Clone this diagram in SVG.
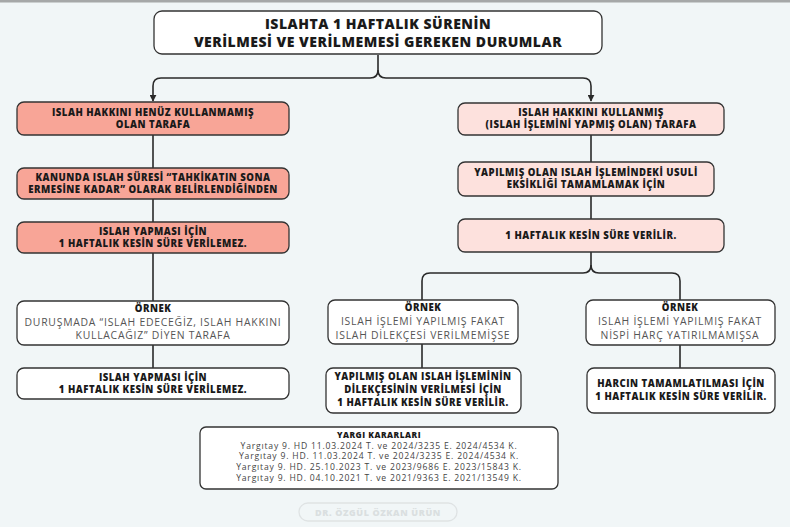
<svg xmlns="http://www.w3.org/2000/svg" width="790" height="527" viewBox="0 0 790 527">
<defs>
<style>
.box{stroke:#333;stroke-width:1.3}
.w{fill:#fff}
.sal{fill:#f8a597}
.pink{fill:#fde1dd}
.b{font-family:"Open Sans","DejaVu Sans",sans-serif;font-weight:800;font-size:9.6px;letter-spacing:0.5px;fill:#1a1a1a;text-anchor:middle}
.r{font-family:"Open Sans","DejaVu Sans",sans-serif;font-weight:400;font-size:10.4px;letter-spacing:0.75px;fill:#555;text-anchor:middle}
.t{font-family:"Open Sans","DejaVu Sans",sans-serif;font-weight:800;font-size:14px;letter-spacing:0.5px;fill:#1a1a1a;text-anchor:middle}
.y{font-family:"Open Sans","DejaVu Sans",sans-serif;font-weight:400;font-size:8.6px;letter-spacing:0.8px;fill:#444;text-anchor:middle}
.c{fill:none;stroke:#2a2a2a;stroke-width:1.6}
</style>
<marker id="ah" viewBox="0 0 10 10" refX="9" refY="5" markerWidth="7" markerHeight="7" orient="auto" markerUnits="userSpaceOnUse">
<path d="M0,0 L10,5 L0,10 z" fill="#2a2a2a"/>
</marker>
</defs>
<rect width="790" height="527" fill="#f1f6f7"/>
<rect width="790" height="2.5" fill="#a6a8a8"/>

<g id="connectors">
<path class="c" d="M378,55 V70 Q378,78 370,78 H161 Q153,78 153,86 V101" marker-end="url(#ah)"/>
<path class="c" d="M378,70 Q378,78 386,78 H583 Q591,78 591,86 V101" marker-end="url(#ah)"/>
<path class="c" d="M153,135 V168 M153,199 V222 M153,253 V301 M153,345 V368"/>
<path class="c" d="M591,135 V162 M591,196 V219"/>
<path class="c" d="M591,252 V265 Q591,273 583,273 H430 Q422,273 422,281 V300"/>
<path class="c" d="M591,265 Q591,273 599,273 H672 Q680,273 680,281 V300"/>
<path class="c" d="M422,344 V368 M680,345 V368"/>
</g>

<g id="title">
<rect class="box w" x="154" y="11" width="448" height="43" rx="8"/>
<text class="t" x="378" y="29">ISLAHTA 1 HAFTALIK SÜRENİN</text>
<text class="t" x="378" y="47">VERİLMESİ VE VERİLMEMESİ GEREKEN DURUMLAR</text>
</g>

<g id="left1">
<rect class="box sal" x="17" y="102" width="272" height="33" rx="7"/>
<text class="b" x="153" y="115.5">ISLAH HAKKINI HENÜZ KULLANMAMIŞ</text>
<text class="b" x="153" y="128">OLAN TARAFA</text>
</g>
<g id="left2">
<rect class="box sal" x="17" y="168" width="272" height="31" rx="7"/>
<text class="b" x="153" y="180.5">KANUNDA ISLAH SÜRESİ “TAHKİKATIN SONA</text>
<text class="b" x="153" y="193">ERMESİNE KADAR” OLARAK BELİRLENDİĞİNDEN</text>
</g>
<g id="left3">
<rect class="box sal" x="17" y="222" width="272" height="31" rx="7"/>
<text class="b" x="153" y="234.5">ISLAH YAPMASI İÇİN</text>
<text class="b" x="153" y="247">1 HAFTALIK KESİN SÜRE VERİLEMEZ.</text>
</g>
<g id="left4">
<rect class="box w" x="17" y="301" width="272" height="44" rx="7"/>
<text class="b" x="153" y="311.5">ÖRNEK</text>
<text class="r" x="153" y="325.5">DURUŞMADA “ISLAH EDECEĞİZ, ISLAH HAKKINI</text>
<text class="r" x="153" y="339">KULLACAĞIZ” DİYEN TARAFA</text>
</g>
<g id="left5">
<rect class="box w" x="17" y="368" width="272" height="31" rx="7"/>
<text class="b" x="153" y="380.5">ISLAH YAPMASI İÇİN</text>
<text class="b" x="153" y="393">1 HAFTALIK KESİN SÜRE VERİLEMEZ.</text>
</g>

<g id="right1">
<rect class="box pink" x="458" y="103" width="266" height="32" rx="7"/>
<text class="b" x="591" y="115.5">ISLAH HAKKINI KULLANMIŞ</text>
<text class="b" x="591" y="128">(ISLAH İŞLEMİNİ YAPMIŞ OLAN) TARAFA</text>
</g>
<g id="right2">
<rect class="box pink" x="458" y="162" width="256" height="34" rx="7"/>
<text class="b" x="586" y="175.5">YAPILMIŞ OLAN ISLAH İŞLEMİNDEKİ USULİ</text>
<text class="b" x="586" y="188">EKSİKLİĞİ TAMAMLAMAK İÇİN</text>
</g>
<g id="right3">
<rect class="box pink" x="458" y="219" width="266" height="33" rx="7"/>
<text class="b" x="591" y="239">1 HAFTALIK KESİN SÜRE VERİLİR.</text>
</g>

<g id="mid4">
<rect class="box w" x="328" y="300" width="190" height="44" rx="7"/>
<text class="b" x="423" y="311">ÖRNEK</text>
<text class="r" x="423" y="325">ISLAH İŞLEMİ YAPILMIŞ FAKAT</text>
<text class="r" x="423" y="338.5">ISLAH DİLEKÇESİ VERİLMEMİŞSE</text>
</g>
<g id="mid5">
<rect class="box w" x="326" y="368" width="195" height="45" rx="7"/>
<text class="b" x="423" y="380">YAPILMIŞ OLAN ISLAH İŞLEMİNİN</text>
<text class="b" x="423" y="393">DİLEKÇESİNİN VERİLMESİ İÇİN</text>
<text class="b" x="423" y="406">1 HAFTALIK KESİN SÜRE VERİLİR.</text>
</g>

<g id="right4">
<rect class="box w" x="586" y="300" width="189" height="45" rx="7"/>
<text class="b" x="680" y="311">ÖRNEK</text>
<text class="r" x="680" y="325">ISLAH İŞLEMİ YAPILMIŞ FAKAT</text>
<text class="r" x="680" y="338.5">NİSPİ HARÇ YATIRILMAMIŞSA</text>
</g>
<g id="right5">
<rect class="box w" x="587" y="368" width="188" height="45" rx="7"/>
<text class="b" x="681" y="387">HARCIN TAMAMLATILMASI İÇİN</text>
<text class="b" x="681" y="400">1 HAFTALIK KESİN SÜRE VERİLİR.</text>
</g>

<g id="yargi">
<rect class="box w" x="200" y="427" width="358" height="62" rx="6"/>
<text class="b" x="379" y="437.5" style="font-size:8.3px">YARGI KARARLARI</text>
<text class="y" x="379" y="448.5">Yargıtay 9. HD 11.03.2024 T. ve 2024/3235 E. 2024/4534 K.</text>
<text class="y" x="379" y="459.3">Yargıtay 9. HD. 11.03.2024 T. ve 2024/3235 E. 2024/4534 K.</text>
<text class="y" x="379" y="470.1">Yargıtay 9. HD. 25.10.2023 T. ve 2023/9686 E. 2023/15843 K.</text>
<text class="y" x="379" y="480.9">Yargıtay 9. HD. 04.10.2021 T. ve 2021/9363 E. 2021/13549 K.</text>
</g>

<g id="watermark">
<rect x="299" y="503" width="158" height="18" rx="9" fill="none" stroke="#dfe3e4" stroke-width="1.3"/>
<text x="378" y="515.5" style="font-family:'Open Sans','DejaVu Sans',sans-serif;font-weight:800;font-size:9px;letter-spacing:0.6px;fill:#dadfe0;text-anchor:middle">DR. ÖZGÜL ÖZKAN ÜRÜN</text>
</g>
</svg>
